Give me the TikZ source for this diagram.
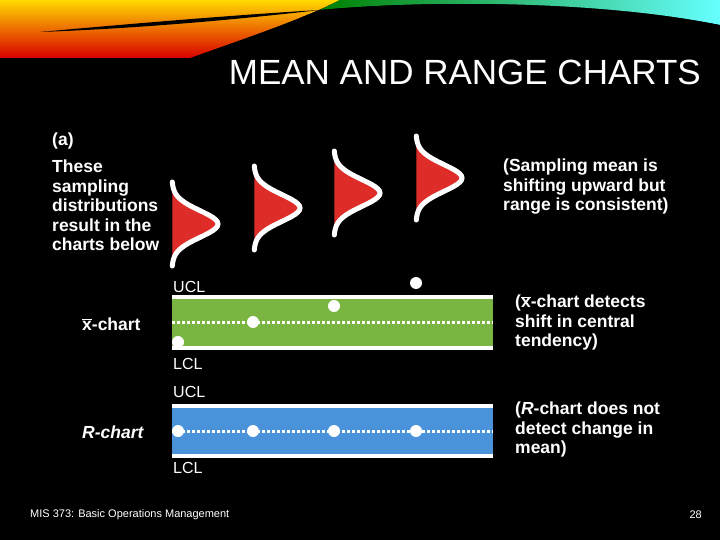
\documentclass[tikz,border=0pt]{standalone}
\usepackage{fontspec}
\setmainfont{Liberation Sans}
\usetikzlibrary{positioning}
\definecolor{bandgreen}{RGB}{122,181,66}
\definecolor{bandblue}{RGB}{74,146,218}
\definecolor{distred}{RGB}{222,45,40}
\newcommand{\xbarb}{$\overline{\mbox{\bfseries x}}$}
\begin{document}
\begin{tikzpicture}[x=1pt,y=-1pt,
    every node/.style={text=white,inner sep=0pt},
    txt/.style={font=\fontsize{17.5}{19.5}\selectfont\bfseries,align=left,anchor=north west},
    lim/.style={font=\fontsize{16}{18}\selectfont,anchor=west},
    pt/.style={circle,fill=white,minimum size=12pt}]
\fill[black] (0,0) rectangle (720,540);
\useasboundingbox (0,0) rectangle (720,540);
% top swoosh
\shade[top color=yellow!70!orange,bottom color=red!85!black]
  (0,0) -- (340,0) .. controls (300,20) and (240,40) .. (190,58) -- (0,58) -- cycle;
\fill[black] (40,32) .. controls (150,22) and (250,14) .. (320,10)
  .. controls (250,18) and (150,28) .. (40,32);
\shade[left color=green!50!black,right color=cyan!60]
  (320,10) .. controls (420,0) and (600,0) .. (720,25) -- (720,0) -- (340,0) -- cycle;
\fill[black] (300,18) .. controls (430,4) and (600,8) .. (700,38) -- (720,38) -- (720,25)
  .. controls (600,3) and (430,0) .. (320,10) -- cycle;
\node[font=\fontsize{35}{40}\selectfont,anchor=east] (title) at (701,72) {MEAN AND RANGE CHARTS};
\node[txt] (a) at (52,133) {(a)};
\node[txt] (these) at (52,160) {These\\sampling\\distributions\\result in the\\charts below};
\node[txt] (shift) at (503,159) {(Sampling mean is\\shifting upward but\\range is consistent)};
% distributions
\foreach \x/\m in {172/224,254/208,334/193,416/178}{
  \fill[distred] plot[smooth,variable=\t,domain=-42:42,samples=41]
    ({\x+46*exp(-(\t/19)^2)},{\m+\t}) -- cycle;
  \draw[white,line width=5pt,line cap=round] plot[smooth,variable=\t,domain=-42:42,samples=41]
    ({\x+46*exp(-(\t/19)^2)},{\m+\t});
}
% x-bar chart
\fill[bandgreen] (172,297) rectangle (493,348);
\draw[white,line width=3.5pt] (172,297) -- (493,297) (172,348) -- (493,348);
\draw[white,line width=3pt,dash pattern=on 3pt off 2pt] (172,322) -- (493,322);
\node[lim] (ucl1) at (173,287) {UCL};
\node[lim] (lcl1) at (173,364) {LCL};
\node[pt] (x1) at (178,342) {};
\node[pt] (x2) at (253,322) {};
\node[pt] (x3) at (334,306) {};
\node[pt] (x4) at (416,283) {};
% R chart
\fill[bandblue] (172,406) rectangle (493,456);
\draw[white,line width=3.5pt] (172,406) -- (493,406) (172,456) -- (493,456);
\draw[white,line width=3pt,dash pattern=on 3pt off 2pt] (172,431) -- (493,431);
\node[lim] (ucl2) at (173,392) {UCL};
\node[lim] (lcl2) at (173,468) {LCL};
\foreach \x [count=\i] in {178,253,334,416}
  \node[pt] (r\i) at (\x,431) {};
\node[txt,anchor=west] (xlab) at (82,324) {\xbarb-chart};
\node[txt,anchor=west] (rlab) at (82,432) {\itshape R-chart};
\node[txt] (xnote) at (515,295) {(\xbarb-chart detects\\shift in central\\tendency)};
\node[txt] (rnote) at (515,402) {(\textit{R}-chart does not\\detect change in\\mean)};
\node[font=\fontsize{11}{13}\selectfont,anchor=west] (foot) at (30,515) {MIS 373: Basic Operations Management};
\node[font=\fontsize{11}{13}\selectfont,anchor=east] (page) at (702,515) {28};
\end{tikzpicture}
\end{document}
